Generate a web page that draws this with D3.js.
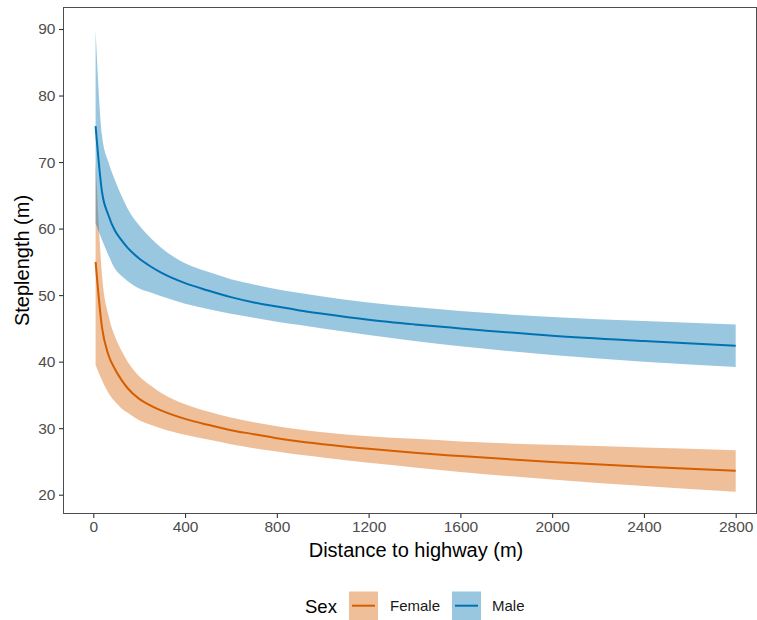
<!DOCTYPE html>
<html>
<head>
<meta charset="utf-8">
<script src="https://cdn.jsdelivr.net/npm/d3@7"></script>
<style>
  html, body { margin: 0; padding: 0; background: #fff; }
  svg { display: block; font-family: "Liberation Sans", Arial, sans-serif; }
</style>
</head>
<body>
<svg id="chart" width="757" height="620"></svg>
<script>
// ---- data ----
const distance = [10, 38, 66, 94, 122, 150, 200, 250, 300, 400, 500, 600, 700, 800, 900, 1000, 1200, 1400, 1600, 2000, 2400, 2800];

const maleFit   = [75.4, 65.5, 62.0, 59.7, 58.3, 57.1, 55.5, 54.3, 53.3, 51.8, 50.7, 49.7, 48.9, 48.3, 47.7, 47.2, 46.3, 45.6, 45.0, 43.9, 43.1, 42.4];
const maleUpper = [89.8, 74.0, 70.0, 67.3, 65.0, 63.0, 60.5, 58.6, 57.0, 54.8, 53.5, 52.4, 51.6, 50.9, 50.3, 49.8, 48.9, 48.2, 47.6, 46.7, 46.1, 45.6];
const maleLower = [60.8, 58.3, 56.0, 54.0, 52.9, 52.1, 51.0, 50.4, 49.8, 48.7, 47.9, 47.2, 46.6, 46.0, 45.5, 45.0, 44.0, 43.1, 42.3, 41.0, 40.0, 39.2];

const femaleFit   = [55.0, 45.1, 41.0, 38.9, 37.3, 36.0, 34.4, 33.4, 32.6, 31.4, 30.5, 29.7, 29.1, 28.5, 28.0, 27.6, 26.9, 26.3, 25.8, 24.9, 24.2, 23.6];
const femaleUpper = [70.0, 53.0, 47.0, 43.8, 41.7, 40.0, 37.8, 36.4, 35.2, 33.6, 32.5, 31.6, 30.9, 30.3, 29.8, 29.4, 28.8, 28.4, 28.0, 27.5, 27.1, 26.7];
const femaleLower = [39.5, 37.2, 35.3, 34.0, 33.0, 32.3, 31.2, 30.5, 29.9, 29.0, 28.3, 27.6, 27.0, 26.5, 26.0, 25.6, 24.8, 24.1, 23.4, 22.3, 21.3, 20.45];

const xTicks = [0, 400, 800, 1200, 1600, 2000, 2400, 2800];
const yTicks = [20, 30, 40, 50, 60, 70, 80, 90];
const sexLevels = ["Female", "Male"];
const sexColors = ["#D55E00", "#0072B2"];

// ---- layout ----
const svg = d3.select("#chart");
const panel = { left: 63.5, right: 756.5, top: 7.5, bottom: 513.5 };

const x = d3.scaleLinear().domain([0, 2800]).range([93.3, 735.7]);
const y = d3.scaleLinear().domain([20, 90]).range([494.7, 29]);

const series = [
  { name: "Female", fit: femaleFit, lo: femaleLower, hi: femaleUpper, color: sexColors[0] },
  { name: "Male",   fit: maleFit,   lo: maleLower,   hi: maleUpper,   color: sexColors[1] }
];

const clipId = "panelclip";
svg.append("clipPath").attr("id", clipId).append("rect")
  .attr("x", panel.left).attr("y", panel.top)
  .attr("width", panel.right - panel.left).attr("height", panel.bottom - panel.top);

const g = svg.append("g").attr("clip-path", `url(#${clipId})`);

const area = d3.area()
  .x((d, i) => x(distance[i]))
  .y0(d => y(d.lo))
  .y1(d => y(d.hi))
  .curve(d3.curveMonotoneX);
const line = d3.line()
  .x((d, i) => x(distance[i]))
  .y(d => y(d))
  .curve(d3.curveMonotoneX);

series.forEach(s => {
  const pts = distance.map((_, i) => ({ lo: s.lo[i], hi: s.hi[i] }));
  g.append("path").datum(pts)
    .attr("d", area)
    .attr("fill", s.color).attr("fill-opacity", 0.4);
});
series.forEach(s => {
  g.append("path").datum(s.fit)
    .attr("d", line)
    .attr("fill", "none").attr("stroke", s.color).attr("stroke-width", 2);
});

// panel border
svg.append("rect")
  .attr("x", panel.left).attr("y", panel.top)
  .attr("width", panel.right - panel.left).attr("height", panel.bottom - panel.top)
  .attr("fill", "none").attr("stroke", "#4D4D4D").attr("stroke-width", 1);

// axes
const tickColor = "#333333";
const textColor = "#4D4D4D";

const xAxis = d3.axisBottom(x).tickValues(xTicks).tickSize(4.5).tickPadding(3).tickFormat(d3.format("d"));
const xg = svg.append("g").attr("transform", `translate(0,${panel.bottom})`).call(xAxis);
xg.select(".domain").remove();
xg.selectAll(".tick line").attr("stroke", tickColor).attr("stroke-width", 1.1);
xg.selectAll(".tick text").attr("fill", textColor).attr("font-size", 15.5)
  .attr("font-family", "Liberation Sans, Arial, sans-serif");

const yAxis = d3.axisLeft(y).tickValues(yTicks).tickSize(4.5).tickPadding(3.5);
const yg = svg.append("g").attr("transform", `translate(${panel.left},0)`).call(yAxis);
yg.select(".domain").remove();
yg.selectAll(".tick line").attr("stroke", tickColor).attr("stroke-width", 1.1);
yg.selectAll(".tick text").attr("fill", textColor).attr("font-size", 15.5)
  .attr("font-family", "Liberation Sans, Arial, sans-serif");

// axis titles
svg.append("text")
  .attr("x", 416).attr("y", 557)
  .attr("text-anchor", "middle").attr("font-size", 20).attr("fill", "#000")
  .text("Distance to highway (m)");

svg.append("text")
  .attr("transform", `translate(29,${(panel.top + panel.bottom) / 2}) rotate(-90)`)
  .attr("text-anchor", "middle").attr("font-size", 20).attr("fill", "#000")
  .text("Steplength (m)");

// legend
const lg = svg.append("g");
lg.append("text").attr("x", 305).attr("y", 612.5)
  .attr("font-size", 18.5).attr("fill", "#000").text("Sex");

const keyX = [349, 452];
const labX = [390, 492];
sexLevels.forEach((lev, i) => {
  const col = sexColors[i];
  lg.append("rect").attr("x", keyX[i]).attr("y", 591.5).attr("width", 29).attr("height", 29)
    .attr("fill", col).attr("fill-opacity", 0.4);
  lg.append("line").attr("x1", keyX[i] + 3).attr("x2", keyX[i] + 26)
    .attr("y1", 605.7).attr("y2", 605.7)
    .attr("stroke", col).attr("stroke-width", 2);
  lg.append("text").attr("x", labX[i]).attr("y", 611)
    .attr("font-size", 15).attr("fill", "#1A1A1A").text(lev);
});
</script>
</body>
</html>
